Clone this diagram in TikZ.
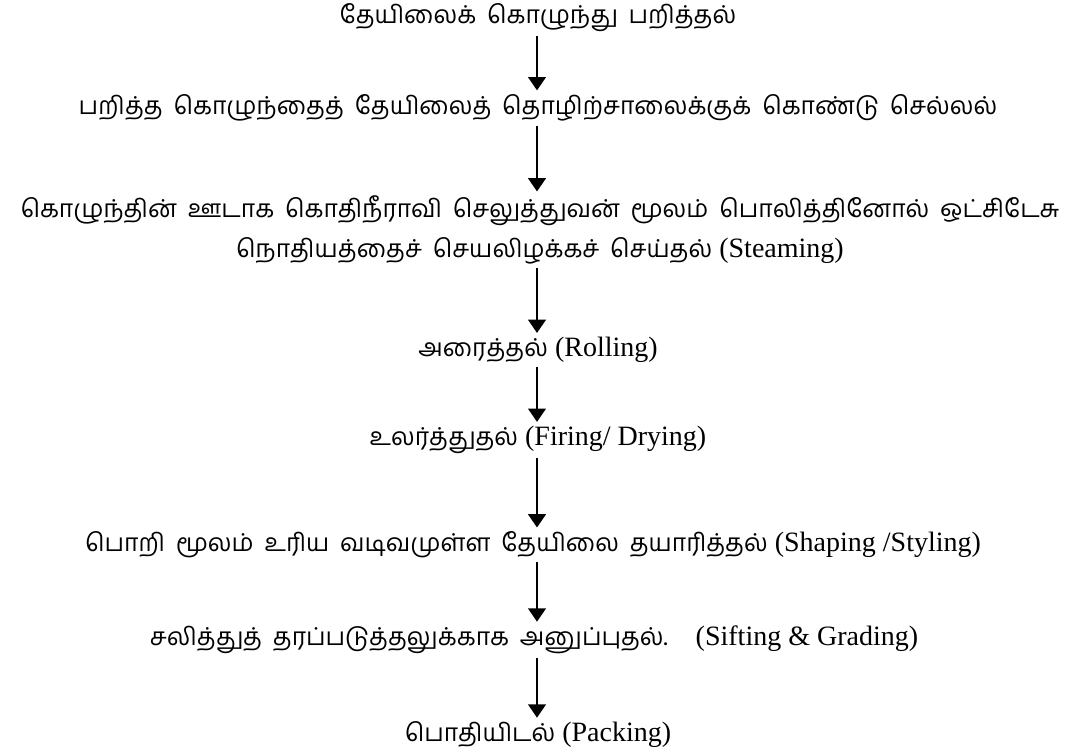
\documentclass[tikz,border=0pt]{standalone}
\usepackage{fontspec}
\setmainfont{Liberation Serif}
\newfontfamily\ta[Script=Tamil,WordSpace=1.8]{Hind Madurai}
\usetikzlibrary{arrows.meta}
\tikzset{
  stage/.style={inner sep=3pt, align=center, font=\fontsize{21}{30}\selectfont},
  flow/.style={line width=2.2pt, -{Triangle[width=13pt,length=10pt]}}
}
\newcommand{\tm}[1]{{\ta\fontsize{18.5}{30}\selectfont #1}}
\begin{document}
\begin{tikzpicture}[x=0.75pt,y=-0.75pt]
\useasboundingbox (0,0) rectangle (1078,751);
\node[stage] (s1) at (538,18) {\tm{தேயிலைக் கொழுந்து பறித்தல்}};
\node[stage] (s2) at (538,108) {\tm{பறித்த கொழுந்தைத் தேயிலைத் தொழிற்சாலைக்குக் கொண்டு செல்லல்}};
\node[stage] (s3) at (540,230) {\tm{கொழுந்தின் ஊடாக கொதிநீராவி செலுத்துவன் மூலம் பொலித்தினோல் ஒட்சிடேசு}\\ \tm{நொதியத்தைச் செயலிழக்கச் செய்தல்} (Steaming)};
\node[stage] (s4) at (538,350) {\tm{அரைத்தல்} (Rolling)};
\node[stage] (s5) at (538,440) {\tm{உலர்த்துதல்} (Firing/ Drying)};
\node[stage] (s6) at (533,545) {\tm{பொறி மூலம் உரிய வடிவமுள்ள தேயிலை தயாரித்தல்} (Shaping /Styling)};
\node[stage] (s7) at (534,640) {\tm{சலித்துத் தரப்படுத்தலுக்காக அனுப்புதல்.}\quad (Sifting \& Grading)};
\node[stage] (s8) at (538,735) {\tm{பொதியிடல்} (Packing)};
\draw[flow] (s1.south -| 537,0) -- (s2.north -| 537,0);
\draw[flow] (s2.south -| 537,0) -- (s3.north -| 537,0);
\draw[flow] (s3.south -| 537,0) -- (s4.north -| 537,0);
\draw[flow] (s4.south -| 537,0) -- (s5.north -| 537,0);
\draw[flow] (s5.south -| 537,0) -- (s6.north -| 537,0);
\draw[flow] (s6.south -| 537,0) -- (s7.north -| 537,0);
\draw[flow] (s7.south -| 537,0) -- (s8.north -| 537,0);
\end{tikzpicture}
\end{document}
